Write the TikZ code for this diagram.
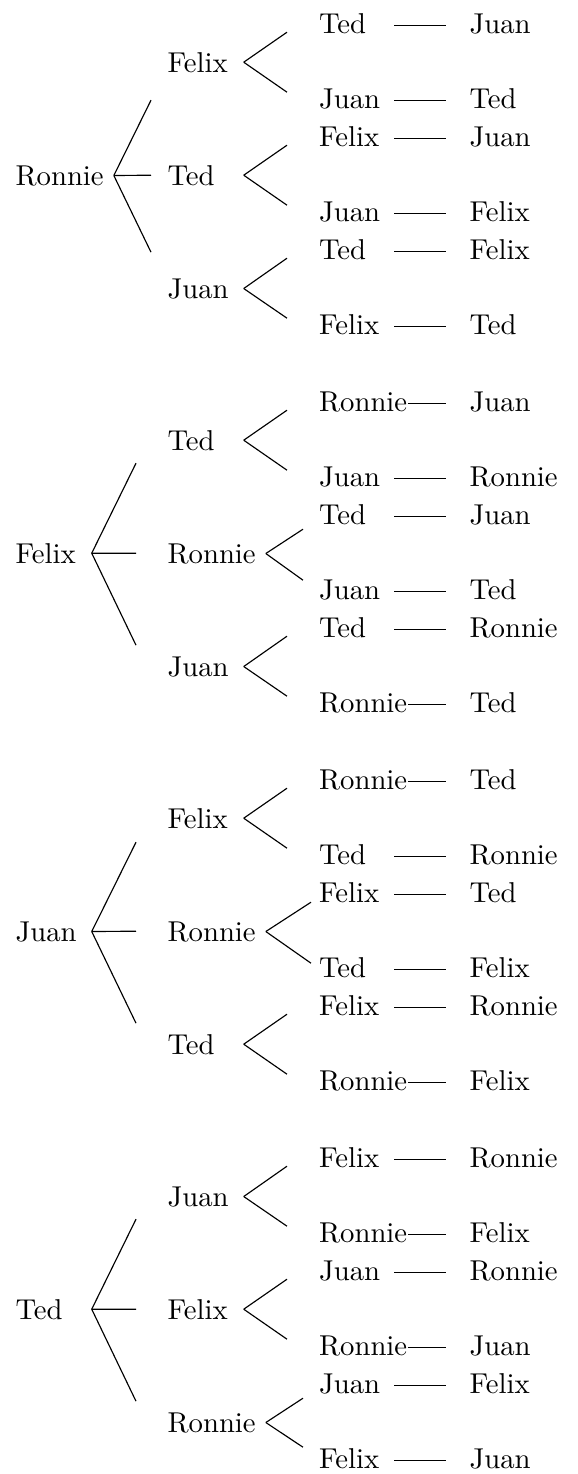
\documentclass[tikz,border=0pt]{standalone}
\tikzset{
  nm/.style={anchor=base west, inner sep=3.333pt},
  nmshort/.style={nm, text width=23pt},
  M-Ted/.style={nmshort}, M-Felix/.style={nmshort}, M-Juan/.style={nmshort}, M-Ronnie/.style={nm},
  lf/.style={anchor=base west, inner sep=3.333pt, text height=1.5ex, text depth=.25ex},
  lfshort/.style={lf, text width=26.06pt},
  L-Ted/.style={lfshort}, L-Felix/.style={lfshort}, L-Juan/.style={lfshort}, L-Ronnie/.style={lf},
  br/.style={line width=0.4pt},
  pair/.style={line width=0.4pt, shorten <=-3.333pt, shorten >=4.77pt},
}
% #1 id, #2 baseline, #3 name, #4 end x, #5 up, #6 down
\newcommand\myrootnode[6]{%
  \node[M-#3] (#1) at (5.43, #2) {#3};
  \coordinate (#1u) at (#4, #2-9.8-#5);
  \coordinate (#1m) at (#4, #2-9.8);
  \coordinate (#1d) at (#4, #2-9.8+#6);
  \draw[br] (#1.east) -- (#1u);
  \draw[br] (#1.east) -- (#1m);
  \draw[br] (#1.east) -- (#1d);
}
% #1 id, #2 baseline, #3 name, #4 end x, #5 up, #6 down, #7 A, #8 B
\newcommand\mykid[8]{%
  \node[M-#3] (#1) at (157.43, #2) {#3};
  \coordinate (#1u) at (#4, #2-9.8-#5);
  \coordinate (#1d) at (#4, #2-9.8+#6);
  \draw[br] (#1.east) -- (#1u);
  \draw[br] (#1.east) -- (#1d);
  \node[L-#7] (#1aL) at (308.93, #2-38.5) {#7};
  \node[lf] (#1aR) at (459.43, #2-38.5) {#8};
  \draw[pair] (#1aL.east) -- (#1aR.west);
  \node[L-#8] (#1bL) at (308.93, #2+36.5) {#8};
  \node[lf] (#1bR) at (459.43, #2+36.5) {#7};
  \draw[pair] (#1bL.east) -- (#1bR.west);
}
\begin{document}
\begin{tikzpicture}[x=0.3484pt, y=-0.3484pt]
\useasboundingbox (0,0) rectangle (577,1474);
% Block 1
\myrootnode{r1}{185}{Ronnie}{151}{75}{77}
\mykid{k11}{72}{Felix}{287}{30}{30}{Ted}{Juan}
\mykid{k12}{185}{Ted}{287}{30}{30}{Felix}{Juan}
\mykid{k13}{298}{Juan}{287}{30}{30}{Ted}{Felix}
% Block 2
\myrootnode{r2}{563}{Felix}{136}{90}{92}
\mykid{k21}{450}{Ted}{287}{30}{30}{Ronnie}{Juan}
\mykid{k22}{563}{Ronnie}{303}{24}{27}{Ted}{Juan}
\mykid{k23}{676}{Juan}{287}{30}{30}{Ted}{Ronnie}
% Block 3
\myrootnode{r3}{941}{Juan}{136}{89}{92}
\mykid{k31}{828}{Felix}{287}{30}{30}{Ronnie}{Ted}
\mykid{k32}{941}{Ronnie}{311}{29}{32}{Felix}{Ted}
\mykid{k33}{1054}{Ted}{287}{30}{30}{Felix}{Ronnie}
% Block 4
\myrootnode{r4}{1319}{Ted}{136}{90}{92}
\mykid{k41}{1206}{Juan}{287}{30}{30}{Felix}{Ronnie}
\mykid{k42}{1319}{Felix}{287}{30}{30}{Juan}{Ronnie}
\mykid{k43}{1432}{Ronnie}{303}{24}{25}{Juan}{Felix}
\end{tikzpicture}
\end{document}
